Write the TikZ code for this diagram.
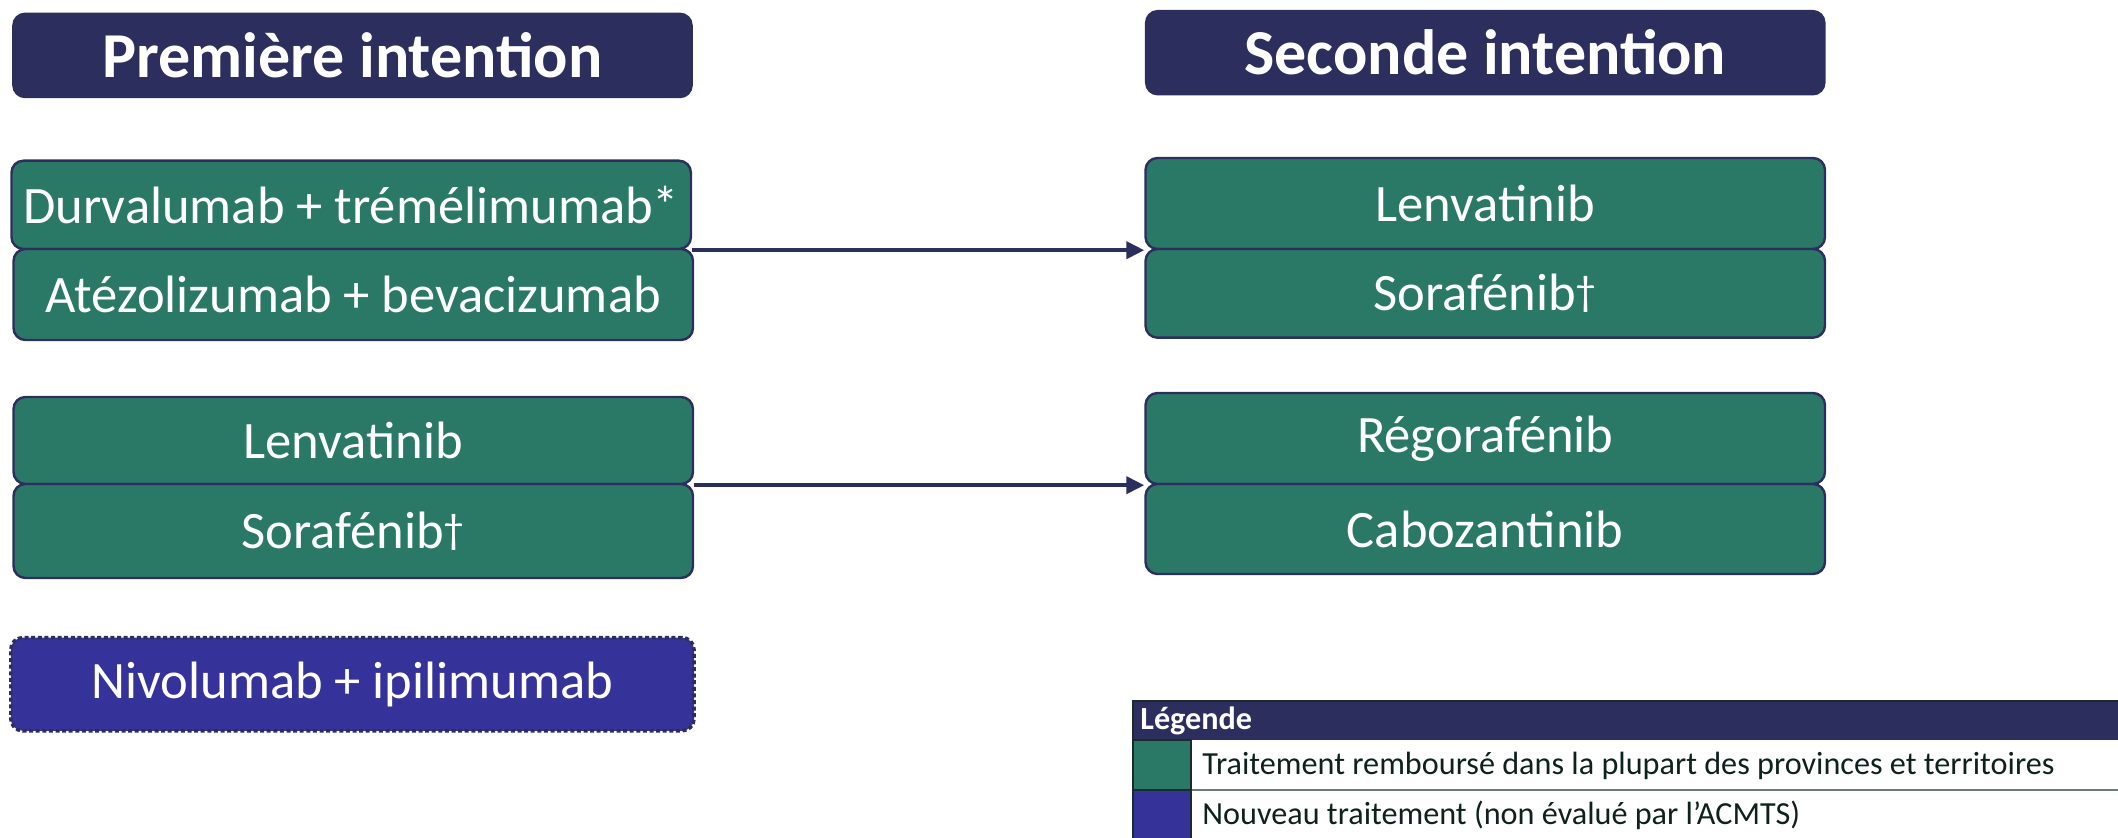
\documentclass[tikz,border=0pt]{standalone}
\usepackage{fontspec}
\setmainfont{Carlito}
\usetikzlibrary{arrows.meta}
\definecolor{navy}{HTML}{2C2F5E}
\definecolor{grn}{HTML}{2A7866}
\definecolor{purp}{HTML}{35339A}
\definecolor{rowline}{HTML}{6E7A78}
\definecolor{legink}{HTML}{0E211D}
\definecolor{legbord}{HTML}{1B2A2A}
\newcommand{\dgr}{\raisebox{2.6pt}{\fontsize{21}{21}\selectfont †}}
\begin{document}
\begin{tikzpicture}[x=0.5pt,y=-0.5pt,
  hdr/.style={rounded corners=6pt, fill=navy, draw=navy, line width=0.8pt, inner sep=0pt, text=white, font=\fontsize{32}{38}\selectfont\bfseries, minimum width=339.5pt, minimum height=42pt},
  tbox/.style={rounded corners=6pt, fill=grn, draw=navy, line width=1.2pt, inner sep=0pt, text=white, font=\fontsize{26.3}{31}\selectfont, minimum width=339.75pt},
  nbox/.style={tbox, fill=purp, draw=navy, dash pattern=on 2pt off 1.3pt, line width=1.8pt},
  arr/.style={draw=navy, line width=2pt, -{Triangle[length=9pt,width=8.5pt]}},
  swatch/.style={inner sep=0pt, minimum width=29pt, minimum height=25pt, draw=legbord, line width=0.6pt},
  legtxt/.style={anchor=west, inner sep=0pt, text=legink, font=\fontsize{16.1}{19}\selectfont}
]
\useasboundingbox (0,0) rectangle (2118,838);
% headers
\node[hdr] (h1) at (352.5,55.4) {Première intention};
\node[hdr] (h2) at (1485.25,52.7) {Seconde intention};
% left column
\node[tbox, minimum height=44.15pt] (d1) at (351.2,204.85) {Durvalumab + trémélimumab*};
\node[tbox, minimum height=45.5pt] (a1) at (353.25,294.5) {Atézolizumab + bevacizumab};
\node[tbox, minimum height=43.5pt] (lv) at (353.25,440.5) {Lenvatinib};
\node[tbox, minimum height=47pt] (sf) at (353.25,531) {Sorafénib\dgr};
\node[nbox, minimum width=341.6pt, minimum height=46.6pt] (nv) at (352.4,684.2) {Nivolumab + ipilimumab};
% right column
\node[tbox, minimum height=45.5pt] (l2) at (1485.25,203.5) {Lenvatinib};
\node[tbox, minimum height=44.35pt] (s2) at (1485.25,293.35) {Sorafénib\dgr};
\node[tbox, minimum height=45.5pt] (rg) at (1485.25,438.5) {Régorafénib};
\node[tbox, minimum height=45pt] (cb) at (1485.25,529) {Cabozantinib};
% arrows
\draw[arr] (d1.south east) -- (l2.south west);
\draw[arr] (lv.south east) -- (rg.south west);
% legend
\fill[navy] (1133,701) rectangle (2140,740);
\draw[legbord, line width=0.9pt] (1133,701) rectangle (2140,860);
\node[legtxt, text=white, font=\fontsize{16.1}{19}\selectfont\bfseries] (lg) at (1140,721) {Légende};
\node[swatch, fill=grn, minimum height=25pt] (sw1) at (1162,765) {};
\node[swatch, fill=purp, minimum height=25pt] (sw2) at (1162,815) {};
\draw[rowline, line width=0.8pt] (1191,790) -- (2140,790);
\draw[legbord, line width=0.8pt] (1191,740) -- (1191,860);
\node[legtxt] (t1) at (1202,766) {Traitement remboursé dans la plupart des provinces et territoires};
\node[legtxt] (t2) at (1202,815) {Nouveau traitement (non évalué par l’ACMTS)};
\end{tikzpicture}
\end{document}
